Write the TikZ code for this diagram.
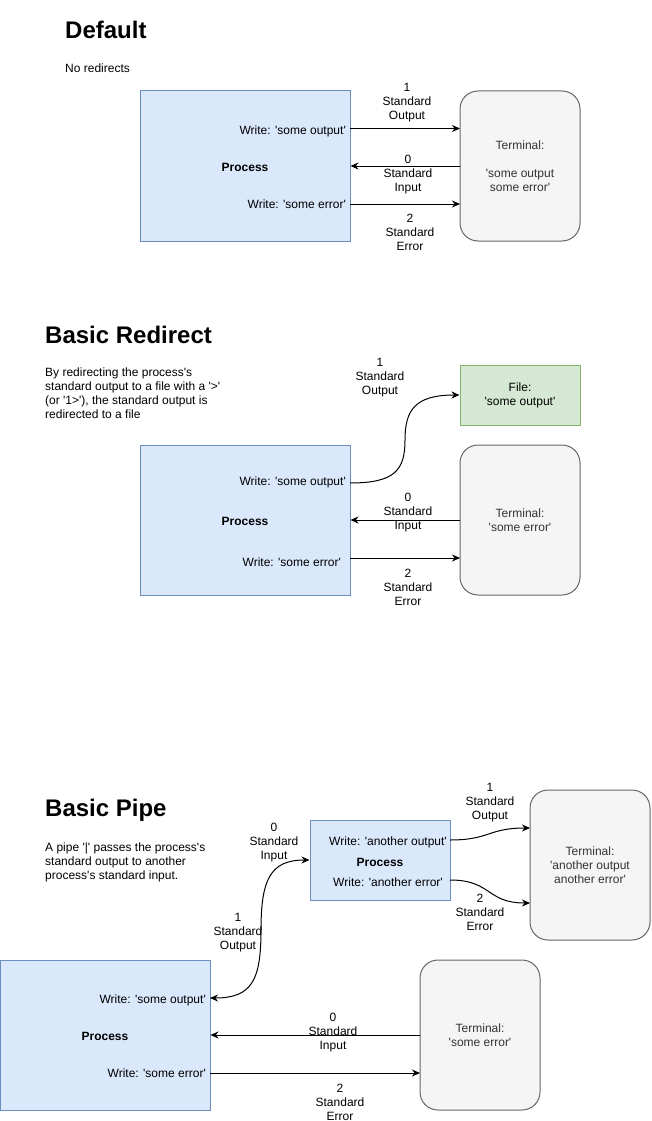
\documentclass[tikz,border=0pt]{standalone}
\usepackage{fontspec}
\setmainfont{Liberation Sans}
\usetikzlibrary{arrows.meta}
\newcommand\sq{\textquotesingle}
\definecolor{procfill}{HTML}{DAE8FC}
\definecolor{procline}{HTML}{6C8EBF}
\definecolor{termfill}{HTML}{F5F5F5}
\definecolor{termline}{HTML}{666666}
\definecolor{termtext}{HTML}{333333}
\definecolor{filefill}{HTML}{D5E8D4}
\definecolor{fileline}{HTML}{82B366}
\begin{document}
\begin{tikzpicture}[x=1pt,y=-1pt,
  txt/.style={font=\fontsize{12}{14}\selectfont, inner sep=0pt, align=center, yshift=-1.3pt},
  bold/.style={txt, font=\fontsize{12}{14}\selectfont\bfseries},
  head/.style={inner sep=0pt, anchor=west, font=\fontsize{24}{28}\selectfont\bfseries},
  desc/.style={txt, align=left, anchor=west},
  procbox/.style={draw=procline, fill=procfill, line width=1pt, inner sep=0pt},
  termbox/.style={font=\fontsize{12}{14}\selectfont, align=center, inner sep=0pt, draw=termline, fill=termfill, text=termtext, rounded corners=18pt, line width=1pt, minimum width=120pt, minimum height=150pt},
  filebox/.style={font=\fontsize{12}{14}\selectfont, align=center, inner sep=0pt, draw=fileline, fill=filefill, line width=1pt, minimum width=120pt, minimum height=60pt},
  arr/.style={line width=1pt, -{Stealth[length=8pt,width=7pt]}},
  darr/.style={line width=1pt, {Stealth[length=8pt,width=7pt]}-{Stealth[length=8pt,width=7pt]}}
]
\useasboundingbox (0,0) rectangle (651,1121);

% ---------- Default ----------
\node[head] (h1) at (65,30) {Default};
\node[desc] (d1) at (65,67) {No redirects};
\node[procbox, minimum width=210pt, minimum height=150pt] (p1) at (245,166) {};
\node[txt, anchor=east] (p1o) at (346,130) {Write: \sq some output\sq};
\node[bold] (p1n) at (245,166) {Process};
\node[txt, anchor=east] (p1e) at (346,203) {Write: \sq some error\sq};
\node[termbox] (t1) at (520,166) {Terminal:\\[14pt]\sq some output\\some error\sq};
\coordinate (p1a) at (350,128.5);
\coordinate (t1a) at (460,128.5);
\coordinate (p1b) at (350,204);
\coordinate (t1b) at (460,204);
\draw[arr] (p1a) -- (t1a);
\draw[arr] (t1.west) -- (p1.east);
\draw[arr] (p1b) -- (t1b);
\node[txt] (l1o) at (407,101) {1\\Standard\\Output};
\node[txt] (l1i) at (408,173) {0\\Standard\\Input};
\node[txt] (l1e) at (410,231) {2\\Standard\\Error};

% ---------- Basic Redirect ----------
\node[head] (h2) at (45,335) {Basic Redirect};
\node[desc] (d2) at (45,392) {By redirecting the process\sq s\\standard output to a file with a \sq>\sq\\(or \sq1>\sq), the standard output is\\redirected to a file};
\node[filebox] (f2) at (520,395) {File:\\\sq some output\sq};
\node[procbox, minimum width=210pt, minimum height=150pt] (p2) at (245,520) {};
\node[txt, anchor=east] (p2o) at (346,481) {Write: \sq some output\sq};
\node[bold] (p2n) at (245,520) {Process};
\node[txt, anchor=east] (p2e) at (341,561) {Write: \sq some error\sq};
\node[termbox] (t2) at (520,520) {Terminal:\\\sq some error\sq};
\coordinate (p2a) at (350,483);
\coordinate (p2b) at (350,558);
\coordinate (t2b) at (460,558);
\draw[arr] (p2a) .. controls (395,483) and (405,470) .. (405,440)
                 .. controls (405,410) and (415,395) .. (f2.west);
\draw[arr] (t2.west) -- (p2.east);
\draw[arr] (p2b) -- (t2b);
\node[txt] (l2o) at (380,376) {1\\Standard\\Output};
\node[txt] (l2i) at (408,511) {0\\Standard\\Input};
\node[txt] (l2e) at (408,586) {2\\Standard\\Error};

% ---------- Basic Pipe ----------
\node[head] (h3) at (45,810) {Basic Pipe};
\node[desc] (d3) at (45,861) {A pipe \sq|\sq\ passes the process\sq s\\standard output to another\\process\sq s standard input.};
\node[procbox, minimum width=140pt, minimum height=80pt] (q2) at (380,860) {};
\node[txt] (q2o) at (388,841) {Write: \sq another output\sq};
\node[bold] (q2n) at (380,861) {Process};
\node[txt] (q2e) at (388,881) {Write: \sq another error\sq};
\node[termbox] (t4) at (590,865) {Terminal:\\\sq another output\\another error\sq};
\coordinate (q2a) at (450,840);
\coordinate (t4a) at (530,828);
\coordinate (q2b) at (450,880);
\coordinate (t4b) at (530,903);
\draw[arr] (q2a) .. controls (490,840) and (488,828) .. (t4a);
\draw[arr] (q2b) .. controls (492,880) and (486,903) .. (t4b);
\node[txt] (l4o) at (490,801) {1\\Standard\\Output};
\node[txt] (l4e) at (480,911) {2\\Standard\\Error};

\node[procbox, minimum width=210pt, minimum height=150pt] (p3) at (105,1035) {};
\node[txt, anchor=east] (p3o) at (206,999) {Write: \sq some output\sq};
\node[bold] (p3n) at (105,1035) {Process};
\node[txt, anchor=east] (p3e) at (206,1072) {Write: \sq some error\sq};
\node[termbox] (t3) at (480,1035) {Terminal:\\\sq some error\sq};
\coordinate (p3a) at (210,998);
\coordinate (p3b) at (210,1073);
\coordinate (t3b) at (420,1073);
\draw[darr] (p3a) .. controls (252,998) and (261,980) .. (261,930)
                  .. controls (261,880) and (270,860) .. (q2.west);
\draw[arr] (t3.west) -- (p3.east);
\draw[arr] (p3b) -- (t3b);
\node[txt] (l3i2) at (274,841) {0\\Standard\\Input};
\node[txt] (l3o) at (238,931) {1\\Standard\\Output};
\node[txt] (l3i) at (333,1031) {0\\Standard\\Input};
\node[txt] (l3e) at (340,1101) {2\\Standard\\Error};
\end{tikzpicture}
\end{document}
